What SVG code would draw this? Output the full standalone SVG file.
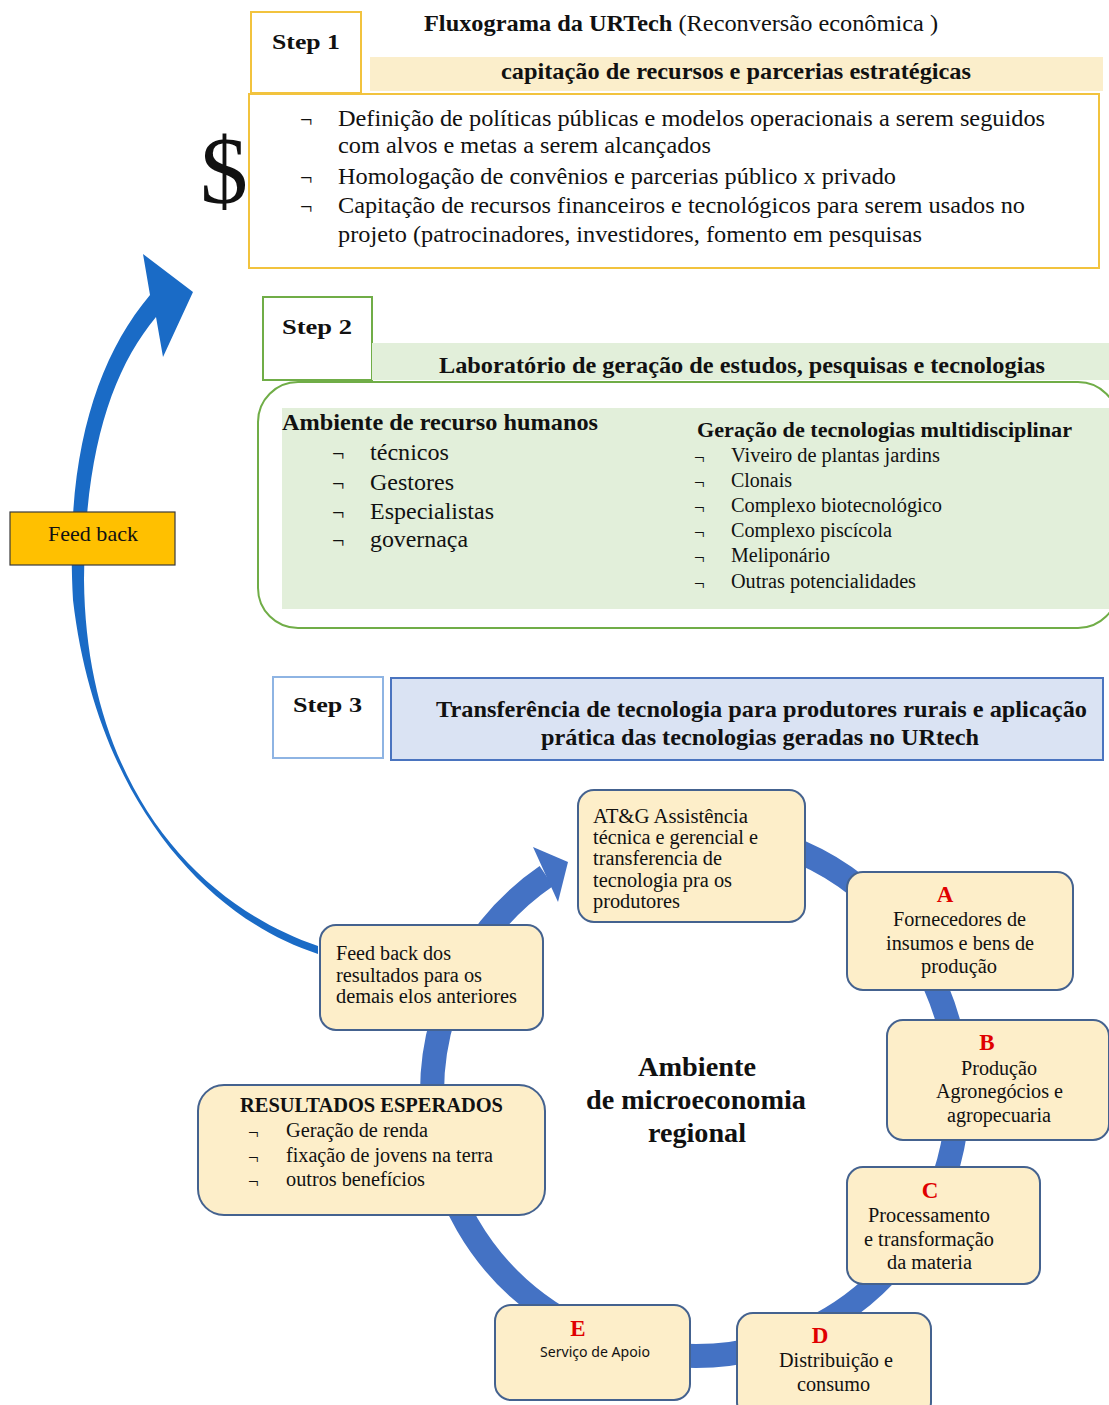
<svg xmlns="http://www.w3.org/2000/svg" width="1109" height="1405" viewBox="0 0 1109 1405">
<style>
text{font-family:"Liberation Serif","Times New Roman",serif;fill:#111}
.b{font-weight:bold}
.step{font-size:22px;font-weight:bold}
.t21{font-size:23px}
.t22{font-size:24px}
.t18{font-size:20px}
.t19{font-size:21px}
.bul{font-size:22px}
.buls{font-size:19px}
.red{fill:#e00000;font-weight:bold;font-size:23px}
.node{fill:#fdeec9;stroke:#44628f;stroke-width:2}
.sans{font-family:"Noto Sans","Liberation Sans",sans-serif}
</style>
<rect width="1109" height="1405" fill="#ffffff"/>

<!-- connectors -->
<g id="connectors">
  <path d="M 649.3 834 A 263 263 0 1 1 546.4 876" fill="none" stroke="#4472c4" stroke-width="24"/>
  <polygon points="533,847 568,862 558,902" fill="#4472c4"/>
  <path d="M 318 954 C 200 916, 95 790, 73 600 C 65 460, 95 360, 150 295 L 143 254 L 193 292 L 163 357 L 156 317 C 112 370, 85 450, 84 580 C 86 780, 192 903, 318 946 Z" fill="#1a6bc6"/>
</g>

<!-- Step 1 -->
<g id="step1">
  <rect x="251" y="12" width="110" height="81" fill="#fff" stroke="#f2c33e" stroke-width="2"/>
  <text class="step" x="272" y="49" textLength="68" lengthAdjust="spacingAndGlyphs">Step  1</text>
  <text class="t21" x="424" y="31" textLength="514" lengthAdjust="spacingAndGlyphs"><tspan class="b">Fluxograma da URTech </tspan>(Reconversão econômica )</text>
  <rect x="370" y="57" width="733" height="34" fill="#fbeecb"/>
  <text class="t21 b" x="501" y="79" textLength="470" lengthAdjust="spacingAndGlyphs">capitação de recursos e parcerias estratégicas</text>
  <rect x="249" y="94" width="850" height="174" fill="#fff" stroke="#f2c33e" stroke-width="2"/>
  <text x="200" y="203" style="font-size:96px">$</text>
  <g class="t22">
    <text class="bul" x="300" y="127">¬</text>
    <text x="338" y="126" textLength="707" lengthAdjust="spacingAndGlyphs">Definição de políticas públicas e modelos operacionais a serem seguidos</text>
    <text x="338" y="153" textLength="373" lengthAdjust="spacingAndGlyphs">com alvos e metas a serem alcançados</text>
    <text class="bul" x="300" y="185">¬</text>
    <text x="338" y="184" textLength="558" lengthAdjust="spacingAndGlyphs">Homologação de convênios e parcerias público x privado</text>
    <text class="bul" x="300" y="214">¬</text>
    <text x="338" y="213" textLength="687" lengthAdjust="spacingAndGlyphs">Capitação de recursos financeiros e tecnológicos para serem usados no</text>
    <text x="338" y="242" textLength="584" lengthAdjust="spacingAndGlyphs">projeto (patrocinadores, investidores, fomento em pesquisas</text>
  </g>
</g>

<!-- Step 2 -->
<g id="step2">
  <rect x="263" y="297" width="109" height="83" fill="#fff" stroke="#70ad47" stroke-width="2"/>
  <text class="step" x="282" y="334" textLength="70" lengthAdjust="spacingAndGlyphs">Step  2</text>
  <rect x="372" y="343" width="737" height="37" fill="#e2efda"/>
  <text class="t21 b" x="439" y="373" textLength="606" lengthAdjust="spacingAndGlyphs">Laboratório de geração de estudos, pesquisas e tecnologias</text>
  <rect x="258" y="382" width="860" height="246" rx="40" ry="40" fill="#fff" stroke="#70ad47" stroke-width="2"/>
  <rect x="282" y="408" width="827" height="201" fill="#e2efda"/>
  <text class="t21 b" x="282" y="430" textLength="316" lengthAdjust="spacingAndGlyphs">Ambiente de recurso humanos</text>
  <g class="t22">
    <text class="bul" x="332" y="461">¬</text><text x="370" y="460" textLength="79" lengthAdjust="spacingAndGlyphs">técnicos</text>
    <text class="bul" x="332" y="491">¬</text><text x="370" y="490" textLength="84" lengthAdjust="spacingAndGlyphs">Gestores</text>
    <text class="bul" x="332" y="520">¬</text><text x="370" y="519" textLength="124" lengthAdjust="spacingAndGlyphs">Especialistas</text>
    <text class="bul" x="332" y="548">¬</text><text x="370" y="547" textLength="98" lengthAdjust="spacingAndGlyphs">governaça</text>
  </g>
  <text class="t19 b" x="697" y="437" textLength="375" lengthAdjust="spacingAndGlyphs">Geração de tecnologias multidisciplinar</text>
  <g class="t18">
    <text class="buls" x="694" y="464">¬</text><text x="731" y="462" textLength="209" lengthAdjust="spacingAndGlyphs">Viveiro de plantas jardins</text>
    <text class="buls" x="694" y="489">¬</text><text x="731" y="487" textLength="61" lengthAdjust="spacingAndGlyphs">Clonais</text>
    <text class="buls" x="694" y="514">¬</text><text x="731" y="512" textLength="211" lengthAdjust="spacingAndGlyphs">Complexo biotecnológico</text>
    <text class="buls" x="694" y="539">¬</text><text x="731" y="537" textLength="161" lengthAdjust="spacingAndGlyphs">Complexo piscícola</text>
    <text class="buls" x="694" y="564">¬</text><text x="731" y="562" textLength="99" lengthAdjust="spacingAndGlyphs">Meliponário</text>
    <text class="buls" x="694" y="590">¬</text><text x="731" y="588" textLength="185" lengthAdjust="spacingAndGlyphs">Outras potencialidades</text>
  </g>
</g>

<!-- Step 3 -->
<g id="step3">
  <rect x="273" y="677" width="110" height="81" fill="#fff" stroke="#8eb4e3" stroke-width="2"/>
  <text class="step" x="293" y="712" textLength="69" lengthAdjust="spacingAndGlyphs">Step  3</text>
  <rect x="391" y="678" width="712" height="82" fill="#dae3f3" stroke="#4a74bf" stroke-width="2"/>
  <text class="t22 b" x="436" y="717" textLength="651" lengthAdjust="spacingAndGlyphs">Transferência de tecnologia para produtores rurais e aplicação</text>
  <text class="t22 b" x="541" y="745" textLength="438" lengthAdjust="spacingAndGlyphs">prática das tecnologias geradas no URtech</text>
</g>

<!-- Feed back label -->
<g id="feedback-label">
  <rect x="10" y="512" width="165" height="53" fill="#ffc000" stroke="#3a3a3a" stroke-width="1.2"/>
  <text class="t19" x="48" y="541" textLength="90" lengthAdjust="spacingAndGlyphs">Feed back</text>
</g>

<!-- cycle nodes -->
<g id="node-atg">
  <rect class="node" x="578" y="790" width="227" height="132" rx="16"/>
  <g class="t18">
    <text x="593" y="823" textLength="155" lengthAdjust="spacingAndGlyphs">AT&amp;G Assistência</text>
    <text x="593" y="844" textLength="165" lengthAdjust="spacingAndGlyphs">técnica e gerencial e</text>
    <text x="593" y="865" textLength="129" lengthAdjust="spacingAndGlyphs">transferencia de</text>
    <text x="593" y="887" textLength="139" lengthAdjust="spacingAndGlyphs">tecnologia pra os</text>
    <text x="593" y="908" textLength="87" lengthAdjust="spacingAndGlyphs">produtores</text>
  </g>
</g>
<g id="node-a">
  <rect class="node" x="847" y="872" width="226" height="118" rx="16"/>
  <text class="red" x="945" y="902" text-anchor="middle">A</text>
  <g class="t18">
    <text x="893" y="926" textLength="133" lengthAdjust="spacingAndGlyphs">Fornecedores de</text>
    <text x="886" y="950" textLength="148" lengthAdjust="spacingAndGlyphs">insumos e bens de</text>
    <text x="921" y="973" textLength="76" lengthAdjust="spacingAndGlyphs">produção</text>
  </g>
</g>
<g id="node-b">
  <rect class="node" x="887" y="1020" width="222" height="120" rx="16"/>
  <text class="red" x="987" y="1050" text-anchor="middle">B</text>
  <g class="t18">
    <text x="961" y="1075" textLength="76" lengthAdjust="spacingAndGlyphs">Produção</text>
    <text x="936" y="1098" textLength="127" lengthAdjust="spacingAndGlyphs">Agronegócios e</text>
    <text x="947" y="1122" textLength="104" lengthAdjust="spacingAndGlyphs">agropecuaria</text>
  </g>
</g>
<g id="node-c">
  <rect class="node" x="847" y="1167" width="193" height="117" rx="16"/>
  <text class="red" x="930" y="1198" text-anchor="middle">C</text>
  <g class="t18">
    <text x="868" y="1222" textLength="122" lengthAdjust="spacingAndGlyphs">Processamento</text>
    <text x="864" y="1246" textLength="130" lengthAdjust="spacingAndGlyphs">e transformação</text>
    <text x="887" y="1269" textLength="85" lengthAdjust="spacingAndGlyphs">da materia</text>
  </g>
</g>
<g id="node-d">
  <rect class="node" x="737" y="1313" width="194" height="105" rx="16"/>
  <text class="red" x="820" y="1343" text-anchor="middle">D</text>
  <g class="t18">
    <text x="779" y="1367" textLength="114" lengthAdjust="spacingAndGlyphs">Distribuição e</text>
    <text x="797" y="1391" textLength="73" lengthAdjust="spacingAndGlyphs">consumo</text>
  </g>
</g>
<g id="node-e">
  <rect class="node" x="495" y="1305" width="195" height="95" rx="16"/>
  <text class="red" x="578" y="1336" text-anchor="middle">E</text>
  <text class="sans" x="540" y="1357" style="font-size:14px" textLength="110" lengthAdjust="spacingAndGlyphs">Serviço de Apoio</text>
</g>
<g id="node-results">
  <rect class="node" x="198" y="1085" width="347" height="130" rx="26"/>
  <text class="t18 b" x="240" y="1112" textLength="263" lengthAdjust="spacingAndGlyphs">RESULTADOS ESPERADOS</text>
  <g class="t18">
    <text class="buls" x="248" y="1139">¬</text><text x="286" y="1137" textLength="142" lengthAdjust="spacingAndGlyphs">Geração de renda</text>
    <text class="buls" x="248" y="1164">¬</text><text x="286" y="1162" textLength="207" lengthAdjust="spacingAndGlyphs">fixação de jovens na terra</text>
    <text class="buls" x="248" y="1188">¬</text><text x="286" y="1186" textLength="139" lengthAdjust="spacingAndGlyphs">outros benefícios</text>
  </g>
</g>
<g id="node-feedback">
  <rect class="node" x="320" y="925" width="223" height="105" rx="16"/>
  <g class="t18">
    <text x="336" y="960" textLength="115" lengthAdjust="spacingAndGlyphs">Feed back dos</text>
    <text x="336" y="982" textLength="146" lengthAdjust="spacingAndGlyphs">resultados para os</text>
    <text x="336" y="1003" textLength="181" lengthAdjust="spacingAndGlyphs">demais elos anteriores</text>
  </g>
</g>
<g id="center-label" class="b" style="font-size:27px">
  <text x="638" y="1076" textLength="118" lengthAdjust="spacingAndGlyphs">Ambiente</text>
  <text x="586" y="1109" textLength="220" lengthAdjust="spacingAndGlyphs">de microeconomia</text>
  <text x="648" y="1142" textLength="98" lengthAdjust="spacingAndGlyphs">regional</text>
</g>
</svg>
